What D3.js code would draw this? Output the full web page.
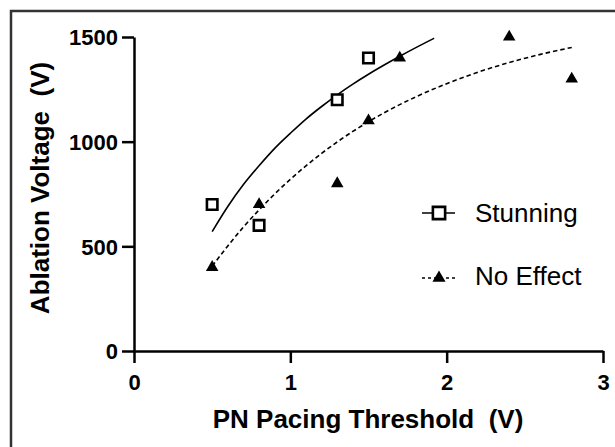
<!DOCTYPE html>
<html>
<head>
<meta charset="utf-8">
<script src="https://cdn.jsdelivr.net/npm/d3@7"></script>
<style>
  body { margin: 0; background: #fff; }
  text { font-family: "Liberation Sans", Arial, sans-serif; white-space: pre; }
</style>
</head>
<body>
<div id="chart-area"></div>
<script>
// measured points
var stunningX = [0.5, 0.8, 1.3, 1.5];
var stunningY = [700, 600, 1200, 1400];
var noEffectX = [0.5, 0.8, 1.3, 1.5, 1.7, 2.4, 2.8];
var noEffectY = [400, 700, 800, 1100, 1400, 1500, 1300];

// fitted curves
var stunningFitX = [0.5, 0.6, 0.7, 0.8, 0.9, 1.0, 1.1, 1.2, 1.3, 1.4, 1.5, 1.6, 1.7, 1.8, 1.92];
var stunningFitY = [570, 690, 795, 885, 968, 1040, 1108, 1168, 1224, 1275, 1322, 1366, 1408, 1448, 1494];
var noEffectFitX = [0.5, 0.6, 0.7, 0.8, 0.9, 1.0, 1.2, 1.4, 1.6, 1.8, 2.0, 2.2, 2.4, 2.6, 2.8];
var noEffectFitY = [405, 502, 592, 674, 750, 820, 944, 1049, 1138, 1213, 1277, 1332, 1378, 1417, 1450];

var xTicks = [0, 1, 2, 3];
var yTicks = [0, 500, 1000, 1500];

var margin = { left: 134, right: 12, top: 37, bottom: 96 };
var width = 615 - margin.left - margin.right,
    height = 447 - margin.top - margin.bottom;

var svg = d3.select("#chart-area")
    .append("svg")
        .attr("width", 615)
        .attr("height", 447);

// outer frame (right and bottom edges sit off the picture)
svg.append("rect")
    .attr("x", 11).attr("y", 11)
    .attr("width", 700).attr("height", 600)
    .attr("fill", "none")
    .attr("stroke", "#333")
    .attr("stroke-width", 2.5);

var g = svg.append("g")
    .attr("transform", "translate(" + margin.left + ", " + margin.top + ")");

var x = d3.scaleLinear().domain([0, 3]).range([0, width]);
var y = d3.scaleLinear().domain([0, 1500]).range([height, 0]);

var xAxis = g.append("g")
    .attr("transform", "translate(0," + height + ")")
    .call(d3.axisBottom(x).tickValues(xTicks).tickFormat(d3.format("d"))
        .tickSize(12).tickSizeOuter(0).tickPadding(11));
var yAxis = g.append("g")
    .call(d3.axisLeft(y).tickValues(yTicks).tickFormat(d3.format("d"))
        .tickSize(12).tickSizeOuter(0).tickPadding(4));

[xAxis, yAxis].forEach(function(a) {
    a.selectAll("path, line").attr("stroke", "#000").attr("stroke-width", 2.5);
    a.selectAll("text")
        .attr("fill", "#000")
        .style("font-size", "22px")
        .style("font-weight", "bold")
        .style("font-family", "'Liberation Sans', Arial, sans-serif");
});
yAxis.selectAll("text").attr("dy", "0.36em");

// axis titles
svg.append("text")
    .attr("x", 368).attr("y", 428)
    .attr("text-anchor", "middle")
    .style("font-size", "26px").style("font-weight", "bold")
    .text("PN Pacing Threshold  (V)");
svg.append("text")
    .attr("transform", "translate(49,188) rotate(-90)")
    .attr("text-anchor", "middle")
    .style("font-size", "26px").style("font-weight", "bold")
    .text("Ablation Voltage  (V)");

var line = d3.line()
    .x(function(d){ return x(d[0]); })
    .y(function(d){ return y(d[1]); })
    .curve(d3.curveMonotoneX);

var stunFit = stunningFitX.map(function(v, i){ return [v, stunningFitY[i]]; });
var noFit = noEffectFitX.map(function(v, i){ return [v, noEffectFitY[i]]; });

g.append("path")
    .attr("d", line(stunFit))
    .attr("fill", "none").attr("stroke", "#000").attr("stroke-width", 1.6);
g.append("path")
    .attr("d", line(noFit))
    .attr("fill", "none").attr("stroke", "#000").attr("stroke-width", 1.6)
    .attr("stroke-dasharray", "4.5,3");

var square = d3.symbol().type(d3.symbolSquare).size(110);
var triangle = d3.symbol().type(d3.symbolTriangle).size(68);

g.selectAll(".stun")
    .data(stunningX.map(function(v, i){ return [v, stunningY[i]]; }))
    .enter().append("path")
        .attr("class", "stun")
        .attr("d", square)
        .attr("transform", function(d){ return "translate(" + x(d[0]) + "," + y(d[1]) + ")"; })
        .attr("fill", "#fff").attr("stroke", "#000").attr("stroke-width", 2.6);

g.selectAll(".noeff")
    .data(noEffectX.map(function(v, i){ return [v, noEffectY[i]]; }))
    .enter().append("path")
        .attr("class", "noeff")
        .attr("d", triangle)
        .attr("transform", function(d){ return "translate(" + x(d[0]) + "," + y(d[1]) + ")"; })
        .attr("fill", "#000");

// legend
var legend = svg.append("g");
legend.append("line")
    .attr("x1", 422).attr("x2", 455).attr("y1", 213).attr("y2", 213)
    .attr("stroke", "#000").attr("stroke-width", 1.6);
legend.append("path")
    .attr("d", d3.symbol().type(d3.symbolSquare).size(150)())
    .attr("transform", "translate(439,213)")
    .attr("fill", "#fff").attr("stroke", "#000").attr("stroke-width", 2.6);
legend.append("text")
    .attr("x", 475).attr("y", 222)
    .style("font-size", "26px")
    .text("Stunning");

legend.append("line")
    .attr("x1", 422).attr("x2", 455).attr("y1", 278).attr("y2", 278)
    .attr("stroke", "#000").attr("stroke-width", 1.6)
    .attr("stroke-dasharray", "3,3");
legend.append("path")
    .attr("d", d3.symbol().type(d3.symbolTriangle).size(75)())
    .attr("transform", "translate(439,278)")
    .attr("fill", "#000");
legend.append("text")
    .attr("x", 475).attr("y", 285)
    .style("font-size", "26px")
    .text("No Effect");
</script>
</body>
</html>
